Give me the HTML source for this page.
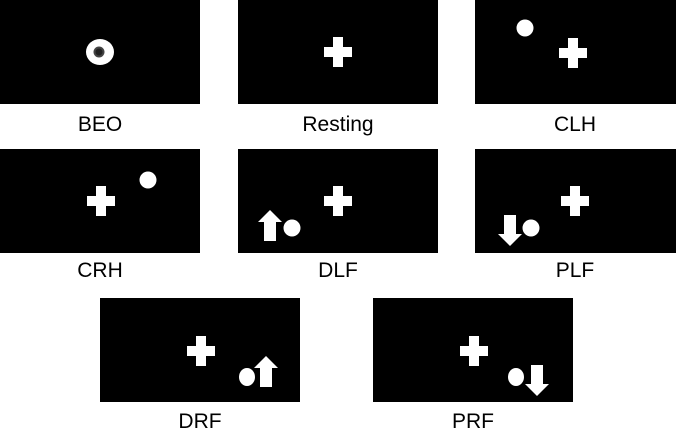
<!DOCTYPE html>
<html><head><meta charset="utf-8"><style>
body{margin:0;background:#fff;width:676px;height:438px;overflow:hidden}
svg{display:block}
text{font-family:"Liberation Sans",sans-serif;font-size:21px;fill:#000;text-anchor:middle}
</style></head><body>
<svg width="676" height="438">
<defs>
<g id="cross"><rect x="-14" y="-5" width="28" height="10" fill="#fff"/><rect x="-5" y="-15" width="10" height="30" fill="#fff"/></g>
<g id="up"><polygon points="0,-16 12,-4 6,-4 6,15 -6,15 -6,-4 -12,-4" fill="#fff"/></g>
<g id="down"><polygon points="0,16 12,4 6,4 6,-15 -6,-15 -6,4 -12,4" fill="#fff"/></g>
</defs>

<g transform="translate(0,0)">
<rect width="200" height="104" fill="#000"/>
<ellipse cx="100" cy="52" rx="14" ry="13" fill="#fff"/>
<circle cx="99" cy="52" r="5.5" fill="#444"/><circle cx="99" cy="52" r="3.5" fill="#222"/>
</g>
<text x="100" y="131">BEO</text>

<g transform="translate(238,0)">
<rect width="200" height="104" fill="#000"/><use href="#cross" x="100" y="52"/>
</g>
<text x="338" y="131">Resting</text>

<g transform="translate(475,0)">
<rect width="201" height="104" fill="#000"/><use href="#cross" x="98" y="53"/>
<circle cx="50" cy="28" r="8.5" fill="#fff"/>
</g>
<text x="575" y="131">CLH</text>

<g transform="translate(0,149)">
<rect width="200" height="104" fill="#000"/><use href="#cross" x="101" y="52"/>
<circle cx="148" cy="31" r="8.5" fill="#fff"/>
</g>
<text x="100" y="277">CRH</text>

<g transform="translate(238,149)">
<rect width="200" height="104" fill="#000"/><use href="#cross" x="100" y="52"/>
<use href="#up" x="32" y="77"/><circle cx="54" cy="79" r="8.5" fill="#fff"/>
</g>
<text x="338" y="277">DLF</text>

<g transform="translate(475,149)">
<rect width="201" height="104" fill="#000"/><use href="#cross" x="100" y="52"/>
<use href="#down" x="35" y="81"/><circle cx="56" cy="79" r="8.5" fill="#fff"/>
</g>
<text x="575" y="277">PLF</text>

<g transform="translate(100,298)">
<rect width="200" height="104" fill="#000"/><use href="#cross" x="101" y="53"/>
<ellipse cx="147" cy="79" rx="8" ry="9" fill="#fff"/><use href="#up" x="166" y="74"/>
</g>
<text x="200" y="428">DRF</text>

<g transform="translate(373,298)">
<rect width="200" height="104" fill="#000"/><use href="#cross" x="101" y="53"/>
<ellipse cx="143" cy="79" rx="8" ry="9" fill="#fff"/><use href="#down" x="164" y="82"/>
</g>
<text x="473" y="428">PRF</text>
</svg>
</body></html>
